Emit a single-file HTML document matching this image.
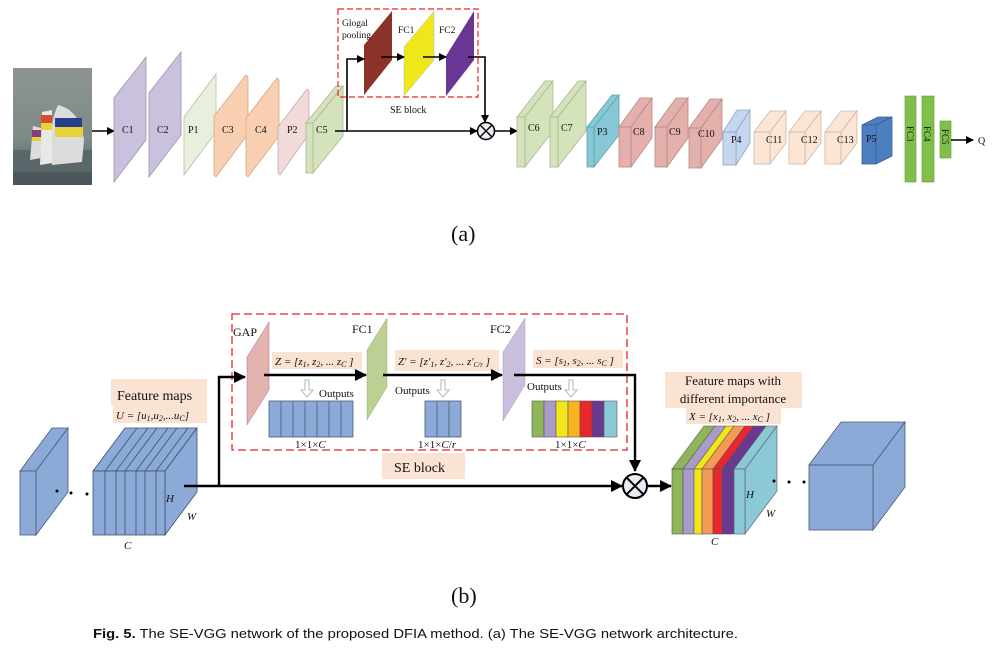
<!DOCTYPE html>
<html><head><meta charset="utf-8"><style>
html,body{margin:0;padding:0;background:#fff;}
svg{display:block;}
text{font-family:"Liberation Serif",serif;fill:#111;}
</style></head><body>
<svg width="996" height="654" viewBox="0 0 996 654" xmlns="http://www.w3.org/2000/svg">
<defs>
<marker id="ah" markerWidth="8" markerHeight="8" refX="7" refY="4" orient="auto" markerUnits="userSpaceOnUse"><path d="M0,0 L8,4 L0,8 z" fill="#000"/></marker>
<marker id="ah2" markerWidth="12" markerHeight="12" refX="11" refY="6" orient="auto" markerUnits="userSpaceOnUse"><path d="M0,0 L12,6 L0,12 z" fill="#000"/></marker>
<linearGradient id="sky" x1="0" y1="0" x2="0" y2="1"><stop offset="0" stop-color="#8d9590"/><stop offset="0.6" stop-color="#7d8a88"/><stop offset="1" stop-color="#4f5a5e"/></linearGradient>
</defs>

<!-- (a) image -->
<rect x="13" y="68" width="79" height="117" fill="url(#sky)"/>
<rect x="13" y="150" width="79" height="35" fill="#59666a"/>
<path d="M52,165 Q48,125 58,105 Q80,110 84,140 L82,162 Z" fill="#dcdcdc"/>
<rect x="55" y="118" width="27" height="9" fill="#2a3f8a"/>
<rect x="55" y="127" width="28" height="10" fill="#e6d23a"/>
<path d="M40,165 L42,112 L52,110 L52,163Z" fill="#e8e8e8"/>
<rect x="41" y="115" width="11" height="8" fill="#d84d2a"/>
<rect x="41" y="123" width="11" height="7" fill="#e6d23a"/>
<path d="M30,160 L33,126 L41,128 L41,158Z" fill="#ddd"/>
<rect x="32" y="130" width="9" height="7" fill="#8b3a7a"/>
<rect x="32" y="137" width="9" height="4" fill="#e6d23a"/>
<rect x="13" y="172" width="79" height="13" fill="#4c575b"/>
<line x1="92" y1="131" x2="114" y2="131" stroke="#000" stroke-width="1.6" marker-end="url(#ah)"/>

<!-- C1..C5 -->
<polygon points="114,98 146,57 146,140 114,182" fill="#cac2dd" stroke="#9a90b0" stroke-width="0.8"/>
<polygon points="149,93 181,52 181,135 149,177" fill="#cac2dd" stroke="#9a90b0" stroke-width="0.8"/>
<polygon points="184,117 216,74 216,132 184,175" fill="#e9efdd" stroke="#b5bfa5" stroke-width="0.8"/>
<polygon points="214,116 246,75 248,77 248,134 216,177 214,175" fill="#f8cfb0" stroke="#d7a88a" stroke-width="0.8"/>
<polygon points="246,118 277,78 279,80 279,136 248,177 246,175" fill="#f8cfb0" stroke="#d7a88a" stroke-width="0.8"/>
<polygon points="278,127 307,89 309,91 309,134 280,175 278,173" fill="#f1dada" stroke="#c9aaaa" stroke-width="0.8"/>
<polygon points="306,123 336,86 343,86 313,123" fill="#d5e3bd" stroke="#a9b890" stroke-width="0.8"/>
<polygon points="313,123 343,86 343,136 313,173" fill="#d5e3bd" stroke="#a9b890" stroke-width="0.8"/>
<rect x="306" y="123" width="7" height="50" fill="#d5e3bd" stroke="#a9b890" stroke-width="0.8"/>
<text x="122" y="133" font-size="10">C1</text>
<text x="157" y="133" font-size="10">C2</text>
<text x="188" y="133" font-size="10">P1</text>
<text x="222" y="133" font-size="10">C3</text>
<text x="255" y="133" font-size="10">C4</text>
<text x="287" y="133" font-size="10">P2</text>
<text x="316" y="133" font-size="10">C5</text>

<!-- SE block (a) -->
<rect x="338" y="9" width="140" height="88" fill="none" stroke="#e8242b" stroke-width="1.2" stroke-dasharray="6,3"/>
<polygon points="364,45 392,11 392,60 364,95" fill="#8b3229"/>
<polygon points="404,47 434,11 434,60 404,96" fill="#f0e61c" stroke="#bbb" stroke-width="0.5"/>
<polygon points="446,56 474,11 474,60 446,96" fill="#6a3694"/>
<text x="342" y="26" font-size="9.5">Glogal</text>
<text x="342" y="38" font-size="9.5">pooling</text>
<text x="398" y="33" font-size="9.5">FC1</text>
<text x="439" y="33" font-size="9.5">FC2</text>
<text x="390" y="113" font-size="10">SE block</text>
<polyline points="335,131 347,131 347,59 364,59" fill="none" stroke="#000" stroke-width="1.6" marker-end="url(#ah)"/>
<line x1="381" y1="57" x2="404" y2="57" stroke="#000" stroke-width="1.6" marker-end="url(#ah)"/>
<line x1="423" y1="57" x2="446" y2="57" stroke="#000" stroke-width="1.6" marker-end="url(#ah)"/>
<polyline points="468,57 485,57 485,122" fill="none" stroke="#000" stroke-width="1.6" marker-end="url(#ah)"/>
<line x1="347" y1="131" x2="477" y2="131" stroke="#000" stroke-width="1.6" marker-end="url(#ah)"/>
<circle cx="486" cy="131" r="8.5" fill="#e8ecf4" stroke="#000" stroke-width="1.5"/>
<path d="M480,125 L492,137 M492,125 L480,137" stroke="#000" stroke-width="1.4"/>
<line x1="495" y1="131" x2="517" y2="131" stroke="#000" stroke-width="1.6" marker-end="url(#ah)"/>

<!-- C6..P5 cuboids -->
<g stroke-width="0.8">
<g fill="#d5e3bd" stroke="#a9b890"><polygon points="517,117 545,81 553,81 525,117"/><polygon points="525,117 553,81 553,131 525,167"/><rect x="517" y="117" width="8" height="50"/></g>
<g fill="#d5e3bd" stroke="#a9b890"><polygon points="550,117 578,81 586,81 558,117"/><polygon points="558,117 586,81 586,131 558,167"/><rect x="550" y="117" width="8" height="50"/></g>
<g fill="#86c8d6" stroke="#5e9fae"><polygon points="587,127 612,95 619,95 594,127"/><polygon points="594,127 619,95 619,135 594,167"/><rect x="587" y="127" width="7" height="40"/></g>
<g fill="#e3b0ac" stroke="#b88884"><polygon points="619,127 640,98 652,98 631,127"/><polygon points="631,127 652,98 652,138 631,167"/><rect x="619" y="127" width="12" height="40"/></g>
<g fill="#e3b0ac" stroke="#b88884"><polygon points="655,127 676,98 688,98 667,127"/><polygon points="667,127 688,98 688,138 667,167"/><rect x="655" y="127" width="12" height="40"/></g>
<g fill="#e3b0ac" stroke="#b88884"><polygon points="689,128 710,99 722,99 701,128"/><polygon points="701,128 722,99 722,139 701,168"/><rect x="689" y="128" width="12" height="40"/></g>
<g fill="#c5d7ee" stroke="#8ea5c4"><polygon points="723,132 737,110 750,110 736,132"/><polygon points="736,132 750,110 750,143 736,165"/><rect x="723" y="132" width="13" height="33"/></g>
<g fill="#fbe5d5" stroke="#cdb6a6"><polygon points="754,132 770,111 786,111 770,132"/><polygon points="770,132 786,111 786,143 770,164"/><rect x="754" y="132" width="16" height="32"/></g>
<g fill="#fbe5d5" stroke="#cdb6a6"><polygon points="789,132 805,111 821,111 805,132"/><polygon points="805,132 821,111 821,143 805,164"/><rect x="789" y="132" width="16" height="32"/></g>
<g fill="#fbe5d5" stroke="#cdb6a6"><polygon points="825,132 841,111 857,111 841,132"/><polygon points="841,132 857,111 857,143 841,164"/><rect x="825" y="132" width="16" height="32"/></g>
<g fill="#4d7ebf" stroke="#35609a"><polygon points="862,125 878,117 892,117 876,125"/><polygon points="876,125 892,117 892,156 876,164"/><rect x="862" y="125" width="14" height="39"/></g>
</g>
<g font-size="10">
<text x="528" y="131">C6</text><text x="561" y="131">C7</text><text x="597" y="135">P3</text>
<text x="633" y="135">C8</text><text x="669" y="135">C9</text><text x="698" y="137">C10</text>
<text x="731" y="143">P4</text><text x="766" y="143">C11</text><text x="801" y="143">C12</text>
<text x="837" y="143">C13</text><text x="866" y="142" fill="#111">P5</text>
</g>
<rect x="905" y="96" width="11" height="86" fill="#7fbf4a" stroke="#5f9a35" stroke-width="0.6"/>
<rect x="922" y="96" width="12" height="86" fill="#7fbf4a" stroke="#5f9a35" stroke-width="0.6"/>
<rect x="940" y="121" width="11" height="37" fill="#7fbf4a" stroke="#5f9a35" stroke-width="0.6"/>
<text transform="translate(907,126) rotate(90)" font-size="9">FC3</text>
<text transform="translate(924,126) rotate(90)" font-size="9">FC4</text>
<text transform="translate(942,129) rotate(90)" font-size="9">FC5</text>
<line x1="951" y1="140" x2="973" y2="140" stroke="#000" stroke-width="1.6" marker-end="url(#ah)"/>
<text x="978" y="144" font-size="10">Q</text>

<text x="451" y="241" font-size="22">(a)</text>

<!-- (b) -->
<rect x="232" y="314" width="395" height="136" fill="none" stroke="#e8242b" stroke-width="1.3" stroke-dasharray="8,4"/>
<g fill="#8caad8" stroke="#4a5a78" stroke-width="0.8">
<polygon points="20,471 52,428 68,428 36,471"/><polygon points="36,471 68,428 68,492 36,535"/><rect x="20" y="471" width="16" height="64"/>
</g>
<circle cx="57" cy="491" r="1.5"/><circle cx="71" cy="493" r="1.5"/><circle cx="87" cy="494" r="1.5"/>
<g fill="#8caad8" stroke="#3f4f6e" stroke-width="0.8">
<polygon points="93,471 125,428 197,428 165,471"/><polygon points="165,471 197,428 197,492 165,535"/><rect x="93" y="471" width="72" height="64"/>
</g>
<g stroke="#3f4f6e" stroke-width="0.8" fill="none">
<path d="M105,471V535M116,471V535M125,471V535M136,471V535M145,471V535M156,471V535"/>
<path d="M105,471L137,428M116,471L148,428M125,471L157,428M136,471L168,428M145,471L177,428M156,471L188,428"/>
</g>
<text x="166" y="502" font-size="11" font-style="italic">H</text>
<text x="187" y="520" font-size="11" font-style="italic">W</text>
<text x="124" y="549" font-size="11" font-style="italic">C</text>
<rect x="111" y="379" width="96" height="27" fill="#fbe3d4"/>
<rect x="113" y="406" width="94" height="17" fill="#fbe3d4"/>
<text x="117" y="400" font-size="14">Feature maps</text>
<text x="116" y="419" font-size="11" font-style="italic">U = [u<tspan font-size="8" dy="2">1</tspan><tspan dy="-2">,u</tspan><tspan font-size="8" dy="2">2</tspan><tspan dy="-2">,...u</tspan><tspan font-size="8" dy="2">C</tspan><tspan dy="-2">]</tspan></text>

<line x1="184" y1="486" x2="622" y2="486" stroke="#000" stroke-width="2.4" marker-end="url(#ah2)"/>
<polyline points="219,486 219,377 245,377" fill="none" stroke="#000" stroke-width="2.4" marker-end="url(#ah2)"/>

<polygon points="247,357 269,322 269,390 247,425" fill="#e2b4ad" stroke="#a48" stroke-width="0.4"/>
<text x="233" y="336" font-size="12">GAP</text>
<rect x="272" y="352" width="90" height="17" fill="#fbe3d4"/>
<text x="275" y="365" font-size="11" font-style="italic">Z = [z<tspan font-size="8" dy="2">1</tspan><tspan dy="-2">, z</tspan><tspan font-size="8" dy="2">2</tspan><tspan dy="-2">, ... z</tspan><tspan font-size="8" dy="2">C</tspan><tspan dy="-2"> ]</tspan></text>
<line x1="264" y1="375" x2="366" y2="375" stroke="#000" stroke-width="2.4" marker-end="url(#ah2)"/>
<polygon points="367,350 387,318 387,387 367,420" fill="#bcd093" stroke="#8a9a6a" stroke-width="0.4"/>
<text x="352" y="333" font-size="12">FC1</text>
<path d="M305,380h4v10h4l-6,7l-6,-7h4z" fill="#fff" stroke="#9aa" stroke-width="0.8"/>
<text x="319" y="397" font-size="11">Outputs</text>
<g fill="#8caad8" stroke="#4a5a78" stroke-width="0.8">
<rect x="269" y="401" width="84" height="36"/>
<path d="M281,401V437M293,401V437M305,401V437M317,401V437M329,401V437M341,401V437"/>
</g>
<text x="295" y="448" font-size="11">1×1×<tspan font-style="italic">C</tspan></text>

<rect x="395" y="350" width="104" height="21" fill="#fbe3d4"/>
<text x="398" y="365" font-size="11" font-style="italic">Z' = [z'<tspan font-size="8" dy="2">1</tspan><tspan dy="-2">, z'</tspan><tspan font-size="8" dy="2">2</tspan><tspan dy="-2">, ... z'</tspan><tspan font-size="7" dy="2">C/r</tspan><tspan dy="-2"> ]</tspan></text>
<line x1="383" y1="375" x2="502" y2="375" stroke="#000" stroke-width="2.4" marker-end="url(#ah2)"/>
<text x="395" y="394" font-size="11">Outputs</text>
<path d="M441,380h4v10h4l-6,7l-6,-7h4z" fill="#fff" stroke="#9aa" stroke-width="0.8"/>
<g fill="#8caad8" stroke="#4a5a78" stroke-width="0.8">
<rect x="425" y="401" width="36" height="36"/><path d="M437,401V437M449,401V437"/>
</g>
<text x="418" y="448" font-size="11">1×1×<tspan font-style="italic">C</tspan>/<tspan font-style="italic">r</tspan></text>

<polygon points="503,352 525,318 525,385 503,421" fill="#c9bedb" stroke="#9a90b0" stroke-width="0.4"/>
<text x="490" y="333" font-size="12">FC2</text>
<rect x="533" y="350" width="90" height="18" fill="#fbe3d4"/>
<text x="536" y="364" font-size="11" font-style="italic">S = [s<tspan font-size="8" dy="2">1</tspan><tspan dy="-2">, s</tspan><tspan font-size="8" dy="2">2</tspan><tspan dy="-2">, ... s</tspan><tspan font-size="8" dy="2">C</tspan><tspan dy="-2"> ]</tspan></text>
<polyline points="514,375 635,375 635,471" fill="none" stroke="#000" stroke-width="2.4" marker-end="url(#ah2)"/>
<text x="527" y="390" font-size="11">Outputs</text>
<path d="M569,380h4v10h4l-6,7l-6,-7h4z" fill="#fff" stroke="#9aa" stroke-width="0.8"/>
<g stroke="#555" stroke-width="0.6">
<rect x="532" y="401" width="12" height="36" fill="#8fb55a"/>
<rect x="544" y="401" width="12" height="36" fill="#a89cc8"/>
<rect x="556" y="401" width="12" height="36" fill="#f2e51c"/>
<rect x="568" y="401" width="12" height="36" fill="#f9b31e"/>
<rect x="580" y="401" width="12" height="36" fill="#e8262b"/>
<rect x="592" y="401" width="12" height="36" fill="#6b3891"/>
<rect x="604" y="401" width="13" height="36" fill="#8cc9d6"/>
</g>
<text x="555" y="448" font-size="11">1×1×<tspan font-style="italic">C</tspan></text>

<rect x="382" y="453" width="83" height="26" fill="#fbe3d4"/>
<text x="394" y="472" font-size="14">SE block</text>

<circle cx="635" cy="486" r="12" fill="#e8ecf4" stroke="#000" stroke-width="2"/>
<path d="M627,478L643,494M643,478L627,494" stroke="#000" stroke-width="2"/>
<line x1="647" y1="486" x2="671" y2="486" stroke="#000" stroke-width="2.4" marker-end="url(#ah2)"/>

<g stroke="#555" stroke-width="0.6">
<polygon points="745,469 777,426 777,491 745,534" fill="#8cc9d6"/>
<polygon points="672,469 704,426 715,426 683,469" fill="#8fb55a"/>
<polygon points="683,469 715,426 726,426 694,469" fill="#a89cc8"/>
<polygon points="694,469 726,426 734,426 702,469" fill="#f2e51c"/>
<polygon points="702,469 734,426 745,426 713,469" fill="#f49a55"/>
<polygon points="713,469 745,426 754,426 722,469" fill="#e8262b"/>
<polygon points="722,469 754,426 766,426 734,469" fill="#6b3891"/>
<polygon points="734,469 766,426 777,426 745,469" fill="#8cc9d6"/>
<rect x="672" y="469" width="11" height="65" fill="#8fb55a"/>
<rect x="683" y="469" width="11" height="65" fill="#a89cc8"/>
<rect x="694" y="469" width="8" height="65" fill="#f2e51c"/>
<rect x="702" y="469" width="11" height="65" fill="#f49a55"/>
<rect x="713" y="469" width="9" height="65" fill="#e8262b"/>
<rect x="722" y="469" width="12" height="65" fill="#6b3891"/>
<rect x="734" y="469" width="11" height="65" fill="#8cc9d6"/>
</g>
<text x="746" y="498" font-size="11" font-style="italic">H</text>
<text x="766" y="517" font-size="11" font-style="italic">W</text>
<text x="711" y="545" font-size="11" font-style="italic">C</text>
<circle cx="774" cy="481" r="1.5"/><circle cx="789" cy="482" r="1.5"/><circle cx="804" cy="482" r="1.5"/>
<rect x="665" y="372" width="137" height="36" fill="#fbe3d4"/>
<rect x="686" y="408" width="95" height="16" fill="#fbe3d4"/>
<text x="733" y="385" font-size="13" text-anchor="middle">Feature maps with</text>
<text x="733" y="403" font-size="13" text-anchor="middle">different importance</text>
<text x="689" y="420" font-size="11" font-style="italic">X = [x<tspan font-size="8" dy="2">1</tspan><tspan dy="-2">, x</tspan><tspan font-size="8" dy="2">2</tspan><tspan dy="-2">, ... x</tspan><tspan font-size="8" dy="2">C</tspan><tspan dy="-2"> ]</tspan></text>

<g fill="#8caad8" stroke="#4a5a78" stroke-width="0.8">
<polygon points="809,465 841,422 905,422 873,465"/><polygon points="873,465 905,422 905,487 873,530"/><rect x="809" y="465" width="64" height="65"/>
</g>

<text x="451" y="603" font-size="22">(b)</text>
<text x="93" y="638" font-size="13" style="font-family:'Liberation Sans',sans-serif" textLength="645" lengthAdjust="spacingAndGlyphs" fill="#222"><tspan font-weight="bold">Fig. 5.</tspan>  The SE-VGG network of the proposed DFIA method.   (a) The SE-VGG network architecture.</text>
</svg>
</body></html>
